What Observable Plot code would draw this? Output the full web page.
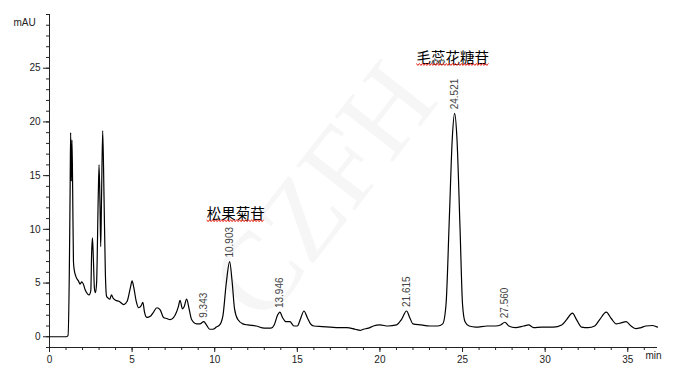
<!DOCTYPE html>
<html>
<head>
<meta charset="utf-8">
<script src="https://cdn.jsdelivr.net/npm/d3@7"></script>
<script src="https://cdn.jsdelivr.net/npm/@observablehq/plot@0.6"></script>
<style>
  html, body { margin: 0; padding: 0; background: #fff; }
  #chart svg { display: block; font-family: "Liberation Sans", Arial, sans-serif; }
</style>
</head>
<body>
<div id="chart"></div>
<script>
// HPLC chromatogram: retention time (min) vs absorbance (mAU)
const time = [
  0, 0.5, 1.0, 1.12, 1.2, 1.25, 1.28, 1.32, 1.36, 1.40, 1.45, 1.5, 1.6, 1.75, 1.85, 1.95, 2.05, 2.15, 2.3, 2.4,
  2.5, 2.55, 2.6, 2.65, 2.72, 2.78, 2.85, 2.95, 3.0, 3.06, 3.1, 3.15, 3.22, 3.3, 3.38, 3.45, 3.55, 3.65, 3.75, 3.85,
  4.0, 4.2, 4.5, 4.7, 4.9, 5.0, 5.1, 5.25, 5.4, 5.55, 5.65, 5.75, 5.9, 6.1, 6.3, 6.5, 6.7, 6.9, 7.1, 7.3,
  7.6, 7.8, 7.9, 8.05, 8.15, 8.3, 8.45, 8.6, 8.9, 9.1, 9.343, 9.5, 9.7, 9.9, 10.1, 10.3, 10.5, 10.7, 10.903, 11.05,
  11.2, 11.4, 11.7, 12.0, 12.5, 13.0, 13.4, 13.6, 13.8, 13.946, 14.1, 14.3, 14.55, 14.8, 15.0, 15.2, 15.4, 15.6, 15.8, 16.0,
  16.5, 17.0, 17.5, 18.0, 18.5, 18.8, 19.0, 19.3, 19.6, 20.0, 20.5, 21.0, 21.3, 21.615, 21.8, 22.0, 22.5, 23.0, 23.5, 23.8,
  24.0, 24.2, 24.38, 24.521, 24.66, 24.85, 25.0, 25.15, 25.4, 25.8, 26.5, 27.0, 27.3, 27.56, 27.8, 28.2, 28.7, 29.0, 29.3, 29.8,
  30.5, 31.0, 31.3, 31.65, 31.9, 32.2, 32.6, 33.0, 33.3, 33.7, 34.0, 34.3, 34.6, 34.9, 35.2, 35.5, 35.8, 36.1, 36.5, 36.8
];
const absorbance = [
  0, 0, 0, 0.1, 6, 14, 19, 14.5, 18.3, 14, 7, 6.2, 5.6, 5.2, 4.9, 5.1, 4.9, 4.4, 4.0, 3.9,
  4.3, 7.8, 9.2, 7.5, 4.5, 4.1, 5, 13, 16, 12, 8.4, 13, 19.2, 13, 6, 3.8, 3.6, 3.5, 3.9, 3.6,
  3.4, 3.3, 3.0, 3.3, 4.6, 5.2, 4.6, 3.3, 2.7, 2.9, 3.2, 2.3, 1.8, 1.9, 2.3, 2.7, 2.5, 1.8, 1.7, 1.6,
  2.0, 2.8, 3.4, 2.6, 2.8, 3.5, 2.6, 1.6, 1.2, 1.2, 1.4, 1.1, 0.7, 0.7, 0.9, 1.1, 2.0, 5.0, 7.0, 5.2,
  2.6, 1.6, 1.2, 1.1, 1.0, 0.8, 0.8, 1.1, 2.0, 2.3, 1.8, 1.4, 1.4, 1.0, 1.0, 1.7, 2.4, 1.8, 1.2, 1.0,
  0.95, 0.9, 0.85, 0.85, 0.7, 0.6, 0.7, 0.8, 1.0, 1.1, 1.0, 1.1, 1.6, 2.4, 1.8, 1.2, 1.1, 1.0, 1.0, 1.2,
  3, 11, 18.5, 20.8, 18.5, 10, 3, 1.4, 1.0, 0.9, 1.0, 1.0, 1.1, 1.35, 1.0, 0.85, 1.0, 1.1, 0.85, 0.9,
  0.9, 1.1, 1.6, 2.2, 1.6, 0.9, 0.85, 1.0, 1.6, 2.3, 1.7, 1.2, 1.3, 1.4, 1.0, 0.75, 0.85, 1.0, 1.05, 0.9
];

// integrated peaks (retention time, min)
const peakTimes = [9.343, 10.903, 13.946, 21.615, 24.521, 27.560];

// identified compounds and the peak each belongs to
const compoundNames = ["松果菊苷", "毛蕊花糖苷"];
const compoundPeaks = [10.903, 24.521];

const xTicks = [0, 5, 10, 15, 20, 25, 30, 35];
const yTicks = [0, 5, 10, 15, 20, 25];

const trace = time.map((t, i) => ({t, v: absorbance[i]}));
const heightAt = (t) => d3.max(trace.filter(d => Math.abs(d.t - t) < 0.2), d => d.v);
const peaks = peakTimes.map(t => ({t, v: heightAt(t), label: t.toFixed(3)}));
const compounds = compoundNames.map((name, i) => ({name, t: compoundPeaks[i], v: heightAt(compoundPeaks[i])}));

const cnFont = "Noto Sans CJK SC";

const chart = Plot.plot({
  width: 675,
  height: 379,
  marginLeft: 49,
  marginRight: 18,
  marginTop: 14,
  marginBottom: 32,
  style: {fontFamily: "Liberation Sans, Arial, sans-serif", fontSize: "10px", background: "#fff", color: "#222"},
  x: {domain: [0, 36.8]},
  y: {domain: [-1, 30]},
  marks: [
    // faint watermark behind the plot
    Plot.text(["CZFH"], {frameAnchor: "top-left", dx: 240, dy: 150, rotate: -52, fontSize: 112,
      fontFamily: "Liberation Serif", fill: "#f6f6f6", textAnchor: "middle"}),
    // axes
    Plot.axisY(d3.range(-1, 31), {tickSize: 3, text: null, stroke: "#222", label: null}),
    Plot.axisY(yTicks, {tickSize: 6, tickPadding: 3, stroke: "#222", fill: "#222", label: null}),
    Plot.axisX(d3.range(0, 37), {anchor: "bottom", tickSize: 3, text: null, stroke: "#222", label: null}),
    Plot.axisX(xTicks, {anchor: "bottom", tickSize: 5, tickPadding: 3, stroke: "#222", fill: "#222", label: null}),
    Plot.ruleX([0], {y1: -1, y2: 30, stroke: "#222"}),
    Plot.ruleY([-1], {stroke: "#222"}),
    Plot.text(["mAU"], {frameAnchor: "top-left", dx: -36, dy: 4, textAnchor: "start", fill: "#222"}),
    Plot.text(["min"], {frameAnchor: "bottom-right", dx: -12, dy: 11, textAnchor: "start", fill: "#222"}),
    // signal
    Plot.line(trace, {x: "t", y: "v", stroke: "#000", strokeWidth: 1.2, curve: "monotone-x"}),
    // retention time labels
    Plot.text(peaks, {x: "t", y: "v", text: "label", rotate: -90, textAnchor: "start", dy: -4, fill: "#444", fontSize: 10}),
    // compound names
    Plot.text(compounds.slice(0, 1), {x: "t", y: "v", text: "name", dx: 6, dy: -47, fontSize: 14.5, fill: "#000", className: "cn", fontFamily: cnFont}),
    Plot.text(compounds.slice(1), {x: "t", y: "v", text: "name", dx: -2, dy: -55, fontSize: 14.5, fill: "#000", className: "cn", fontFamily: cnFont})
  ]
});
document.getElementById("chart").append(chart);

// red wavy underline beneath each compound name
d3.select(chart).selectAll("g.cn text").each(function () {
  const b = this.getBBox();
  const y0 = b.y + b.height - 2.5;
  const pts = d3.range(b.x, b.x + b.width + 0.1, 1.5).map((x, i) => [x, y0 + (i % 2 ? 1 : -1)]);
  d3.select(this.parentNode).append("path")
    .attr("transform", this.getAttribute("transform"))
    .attr("d", d3.line()(pts))
    .attr("fill", "none")
    .attr("stroke", "#e8261c")
    .attr("stroke-width", 1);
});
</script>
</body>
</html>
